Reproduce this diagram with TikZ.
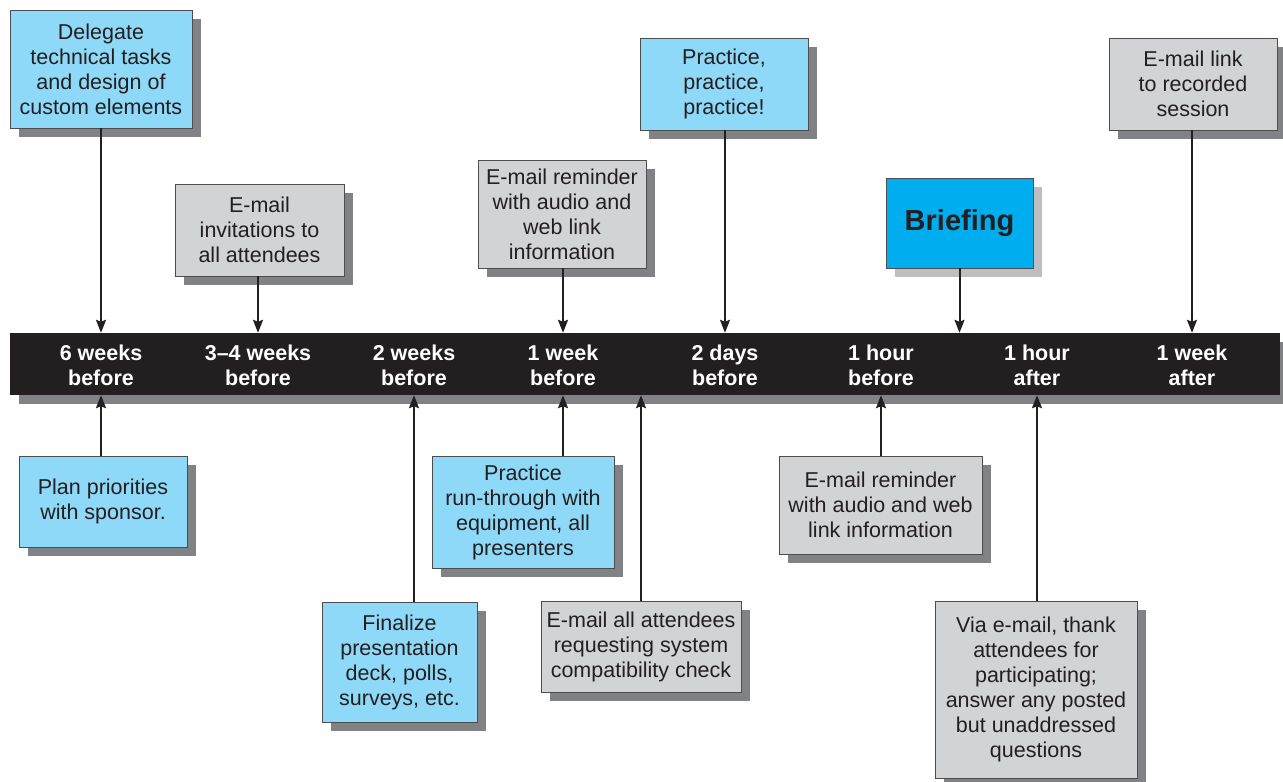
\documentclass[tikz,border=0pt]{standalone}
\usepackage{fontspec}
\setmainfont{Liberation Sans}
\usetikzlibrary{shadows,arrows.meta}
\definecolor{lblue}{HTML}{8ED8F8}
\definecolor{lgray}{HTML}{D1D3D4}
\definecolor{sgray}{HTML}{808285}
\definecolor{sgrayl}{HTML}{BCBEC0}
\definecolor{brief}{HTML}{00AEEF}
\definecolor{ink}{HTML}{231F20}
\begin{document}
\begin{tikzpicture}[x=1pt,y=-1pt,
  box/.style={draw=ink!80, line width=0.8pt, text=ink, align=center, inner sep=0pt,
    font=\fontsize{21.5}{25}\selectfont,
    drop shadow={shadow xshift=9pt, shadow yshift=-9pt, fill=sgray, opacity=1}},
  bbox/.style={box, fill=lblue},
  gbox/.style={box, fill=lgray},
  lab/.style={text=white, align=center, font=\fontsize{21.5}{25}\selectfont\bfseries, inner sep=0pt},
  arr/.style={draw=ink, line width=2pt, -{Stealth[length=13pt,width=10pt,inset=2pt]}}]
\useasboundingbox (0,0) rectangle (1283,782);
% bar
\node[fill=ink, minimum width=1270pt, minimum height=62pt, inner sep=0pt,
  drop shadow={shadow xshift=9pt, shadow yshift=-9pt, fill=sgray, opacity=1}] (bar) at (645,364) {};
\node[lab] (l1) at (101,365.5) {6 weeks\\before};
\node[lab] (l2) at (258,365.5) {3–4 weeks\\before};
\node[lab] (l3) at (414,365.5) {2 weeks\\before};
\node[lab] (l4) at (563,365.5) {1 week\\before};
\node[lab] (l5) at (725,365.5) {2 days\\before};
\node[lab] (l6) at (881,365.5) {1 hour\\before};
\node[lab] (l7) at (1037,365.5) {1 hour\\after};
\node[lab] (l8) at (1192,365.5) {1 week\\after};
% top boxes
\node[bbox, minimum width=182pt, minimum height=118pt] (b1) at (101,69) {Delegate\\technical tasks\\and design of\\custom elements};
\node[gbox, minimum width=169pt, minimum height=92pt] (b2) at (259.5,230) {E-mail\\invitations to\\all attendees};
\node[gbox, minimum width=168pt, minimum height=108pt] (b3) at (562,214) {E-mail reminder\\with audio and\\web link\\information};
\node[bbox, minimum width=168pt, minimum height=92pt] (b4) at (724,84) {Practice,\\practice,\\practice!};
\node[draw=ink!80, line width=0.8pt, fill=brief, text=ink, inner sep=0pt,
  minimum width=147pt, minimum height=90pt, font=\fontsize{29}{30}\selectfont\bfseries,
  drop shadow={shadow xshift=9pt, shadow yshift=-9pt, fill=sgrayl, opacity=1}] (b5) at (959.5,223) {Briefing};
\node[gbox, minimum width=168pt, minimum height=92pt] (b6) at (1193,84) {E-mail link\\to recorded\\session};
% bottom boxes
\node[bbox, minimum width=168pt, minimum height=91pt] (b7) at (103,501.5) {Plan priorities\\with sponsor.};
\node[bbox, minimum width=155pt, minimum height=120pt] (b8) at (399.5,662) {Finalize\\presentation\\deck, polls,\\surveys, etc.};
\node[bbox, minimum width=182pt, minimum height=112pt] (b9) at (523,512) {Practice\\run-through with\\equipment, all\\presenters};
\node[gbox, minimum width=200pt, minimum height=91pt] (b10) at (641,646.5) {E-mail all attendees\\requesting system\\compatibility check};
\node[gbox, minimum width=203pt, minimum height=98pt] (b11) at (880.5,505) {E-mail reminder\\with audio and web\\link information};
\node[gbox, minimum width=202pt, minimum height=177pt] (b12) at (1036,689.5) {Via e-mail, thank\\attendees for\\participating;\\answer any posted\\but unaddressed\\questions};
% arrows from top
\draw[arr] (l1 |- b1.south) -- (l1 |- bar.north);
\draw[arr] (l2 |- b2.south) -- (l2 |- bar.north);
\draw[arr] (l4 |- b3.south) -- (l4 |- bar.north);
\draw[arr] (l5 |- b4.south) -- (l5 |- bar.north);
\draw[arr] (b5.south) -- (b5.south |- bar.north);
\draw[arr] (l8 |- b6.south) -- (l8 |- bar.north);
% arrows from bottom
\draw[arr] (l1 |- b7.north) -- (l1 |- bar.south);
\draw[arr] (l3 |- b8.north) -- (l3 |- bar.south);
\draw[arr] (l4 |- b9.north) -- (l4 |- bar.south);
\draw[arr] (b10.north) -- (b10.north |- bar.south);
\draw[arr] (l6 |- b11.north) -- (l6 |- bar.south);
\draw[arr] (l7 |- b12.north) -- (l7 |- bar.south);
\end{tikzpicture}
\end{document}
